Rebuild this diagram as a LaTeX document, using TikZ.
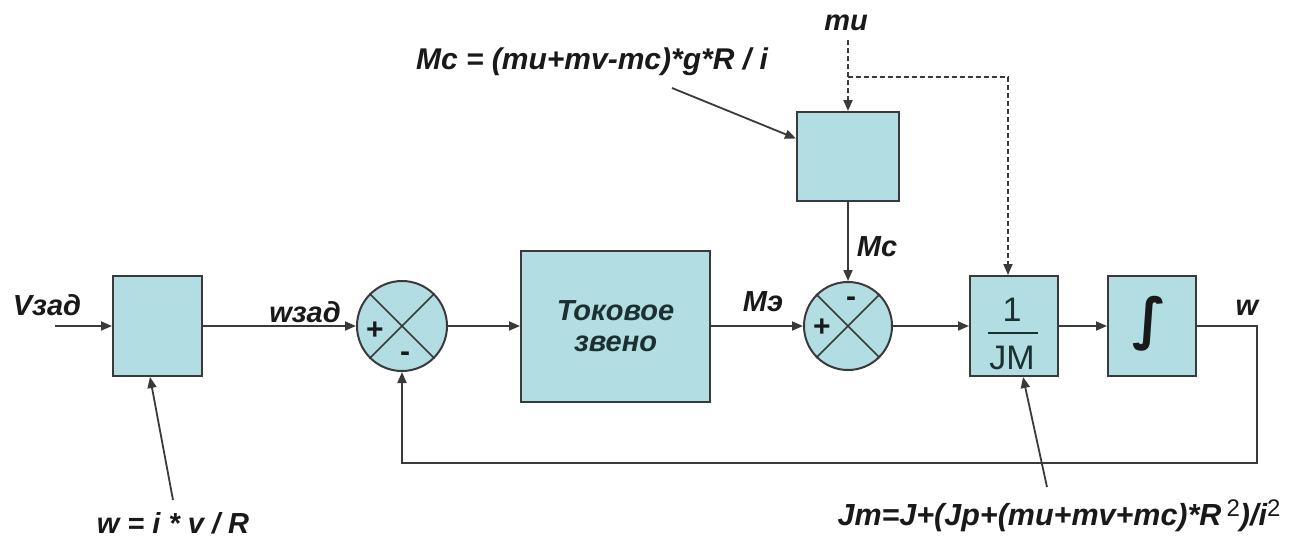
\documentclass[tikz,border=0pt]{standalone}
\usepackage{fontspec}
\setmainfont{Liberation Sans}
\newfontfamily\intfont{DejaVu Sans}
\usetikzlibrary{arrows.meta}
\definecolor{blockfill}{RGB}{178,221,226}
\definecolor{linec}{RGB}{58,58,58}
\definecolor{txt}{RGB}{25,25,25}
\definecolor{blocktxt}{RGB}{28,48,50}
\newcommand\mysup[1]{\raisebox{9pt}{\mdseries\upshape\fontsize{24}{24}\selectfont #1}}
\begin{document}
\begin{tikzpicture}[x=1pt,y=-1pt,
  blk/.style={draw=linec,line width=2pt,fill=blockfill,inner sep=0pt},
  sumnode/.style={circle,draw=linec,line width=2pt,fill=blockfill,minimum size=90pt,inner sep=0pt},
  conn/.style={draw=linec,line width=1.8pt,-{Triangle[length=11pt,width=9pt]}},
  plain/.style={draw=linec,line width=1.6pt},
  dconn/.style={conn,dash pattern=on 5pt off 3pt},
  lbl/.style={font=\fontsize{29}{34}\selectfont\bfseries\itshape,text=txt,inner sep=0pt},
  sign/.style={font=\fontsize{30}{30}\selectfont\bfseries,text=txt,inner sep=0pt}]
\useasboundingbox[fill=white] (0,0) rectangle (1304,541);

% blocks
\node[blk,minimum width=89pt,minimum height=100pt] (b1) at (157.5,326) {};
\node[sumnode] (s1) at (402,326) {};
\node[blk,minimum width=189pt,minimum height=151pt,align=center,
      font=\fontsize{29}{31}\selectfont\bfseries\itshape,text=blocktxt] (tok) at (615.5,326) {Токовое\\звено};
\node[sumnode,minimum size=88pt] (s2) at (848,326) {};
\node[blk,minimum width=102pt,minimum height=89pt] (mcb) at (848,156.5) {};
\node[blk,minimum width=88pt,minimum height=100pt] (jm) at (1014,326) {};
\node[blk,minimum width=88pt,minimum height=100pt] (int) at (1152,326) {};
\node[font=\intfont\bfseries\fontsize{56}{56}\selectfont,text=txt,inner sep=0pt] (intsym) at (1150,324) {∫};

% sum crosses
\draw[plain] (s1.north west) -- (s1.south east);
\draw[plain] (s1.north east) -- (s1.south west);
\draw[plain] (s2.north west) -- (s2.south east);
\draw[plain] (s2.north east) -- (s2.south west);
\node[sign] (s1p) at (375,331) {+};
\node[sign] (s1m) at (405,357) {-};
\node[sign] (s2p) at (822,328) {+};
\node[sign] (s2m) at (851,302) {-};

% 1/JM fraction
\node[font=\fontsize{34}{34}\selectfont,text=blocktxt,inner sep=0pt] (jmn) at (1012,310) {1};
\draw[draw=blocktxt,line width=2pt] ([xshift=-26pt,yshift=-7pt]jm.center) -- ([xshift=24pt,yshift=-7pt]jm.center);
\node[font=\fontsize{34}{34}\selectfont,text=blocktxt,inner sep=0pt] (jmd) at (1012,358) {JM};

% main signal path
\coordinate (vin) at (55,326);
\draw[conn] (vin) -- (b1.west);
\draw[conn] (b1.east) -- (s1.west);
\draw[conn] (s1.east) -- (tok.west);
\draw[conn] (tok.east) -- (s2.west);
\draw[conn] (mcb.south) -- (s2.north);
\draw[conn] (s2.east) -- (jm.west);
\draw[conn] (jm.east) -- (int.west);
\coordinate (wc) at (1257,326);
\coordinate (fb) at (1257,463);
\draw[conn] (int.east) -- (wc) -- (fb) -| (s1.south);

% dashed mu lines
\node[lbl] (mu) at (846,23) {mu};
\coordinate (mutop) at (848,40);
\coordinate (mubr) at (848,77);
\coordinate (jmbr) at (1008,77);
\draw[dconn] (mutop) -- (mcb.north);
\draw[dconn] (mubr) -- (jmbr) -- (jmbr |- jm.north);

% signal labels
\node[lbl] (lv) at (47,305) {Vзад};
\node[lbl] (lw) at (305,312) {wзад};
\node[lbl] (lme) at (763,302) {Mэ};
\node[lbl] (lmc) at (877,247) {Mc};
\node[lbl] (lwo) at (1247,308) {w};

% annotations
\node[lbl,font=\fontsize{30}{34}\selectfont\bfseries\itshape] (mcf) at (592,62) {Mc = (mu+mv-mc)*g*R / i};
\coordinate (mcfa) at (672,88);
\draw[conn] (mcfa) -- ([yshift=18pt]mcb.west);

\node[lbl] (wf) at (173,523) {w = i * v / R};
\coordinate (wa) at (173,500);
\draw[conn] (wa) -- ([xshift=-7.5pt]b1.south);

\node[lbl,font=\fontsize{30.5}{34}\selectfont\bfseries\itshape] (jmf) at (1059,516) {Jm=J+(Jp+(mu+mv+mc)*R\,\mysup{2})/i\mysup{2}};
\coordinate (jma) at (1047,487);
\draw[conn] (jma) -- ([xshift=9pt]jm.south);
\end{tikzpicture}
\end{document}
